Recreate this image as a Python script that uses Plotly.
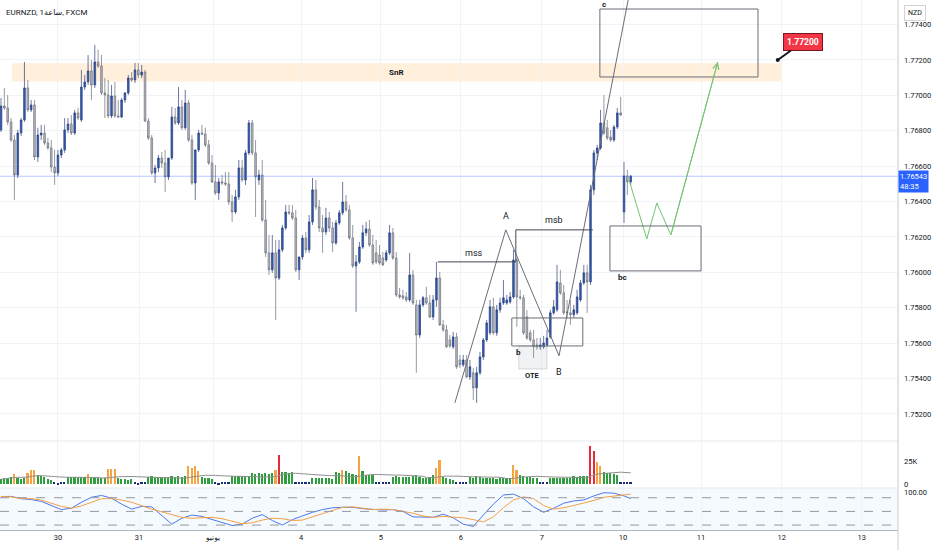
import pandas as pd
import plotly.graph_objects as go

# ---------------- data (hourly EURNZD, FXCM) ----------------
bar = list(range(189))

open_ = [
 1.76805, 1.76940, 1.76929, 1.76850, 1.76748, 1.76550, 1.76787, 1.76861, 1.77042, 1.76918,
 1.76946, 1.76652, 1.76776, 1.76787, 1.76731, 1.76703, 1.76595, 1.76562, 1.76663, 1.76692,
 1.76805, 1.76838, 1.76787, 1.76901, 1.76861, 1.77047, 1.77076, 1.77138, 1.77059, 1.77189,
 1.77166, 1.77014, 1.77002, 1.76884, 1.76997, 1.76884, 1.76878, 1.76974, 1.77014, 1.77098,
 1.77087, 1.77144, 1.77115, 1.77132, 1.76855, 1.76759, 1.76562, 1.76590, 1.76646, 1.76618,
 1.76539, 1.76646, 1.76878, 1.76844, 1.76935, 1.76817, 1.76957, 1.76748, 1.76505, 1.76692,
 1.76787, 1.76782, 1.76720, 1.76618, 1.76511, 1.76449, 1.76511, 1.76505, 1.76499, 1.76398,
 1.76341, 1.76426, 1.76590, 1.76522, 1.76675, 1.76844, 1.76675, 1.76522, 1.76550, 1.76296,
 1.76110, 1.76014, 1.76110, 1.75968, 1.76127, 1.76251, 1.76341, 1.76336, 1.76307, 1.76014,
 1.76087, 1.76194, 1.76127, 1.76285, 1.76466, 1.76369, 1.76251, 1.76228, 1.76307, 1.76251,
 1.76166, 1.76279, 1.76336, 1.76398, 1.76353, 1.76194, 1.76036, 1.76059, 1.76143, 1.76223,
 1.76245, 1.76155, 1.76110, 1.76098, 1.76081, 1.76070, 1.76110, 1.76223, 1.76081, 1.75872,
 1.75867, 1.75861, 1.75844, 1.75985, 1.75816, 1.75646, 1.75816, 1.75856, 1.75827, 1.75748,
 1.75844, 1.75968, 1.75703, 1.75675, 1.75618, 1.75579, 1.75635, 1.75505, 1.75477, 1.75505,
 1.75409, 1.75432, 1.75347, 1.75432, 1.75522, 1.75618, 1.75658, 1.75805, 1.75658, 1.75788,
 1.75827, 1.75827, 1.75833, 1.75861, 1.76070, 1.75861, 1.75856, 1.75748, 1.75658, 1.75618,
 1.75590, 1.75579, 1.75579, 1.75590, 1.75635, 1.75771, 1.75788, 1.75940, 1.75884, 1.75777,
 1.75771, 1.75760, 1.75771, 1.75844, 1.75940, 1.75997, 1.75946, 1.76466, 1.76675, 1.76703,
 1.76844, 1.76817, 1.76765, 1.76748, 1.76821, 1.76901, 1.76341, 1.76545, 1.76511]

high = [
 1.76985, 1.77042, 1.77002, 1.76872, 1.76776, 1.76805, 1.76872, 1.77189, 1.77087, 1.76974,
 1.76974, 1.76817, 1.76833, 1.76833, 1.76759, 1.76748, 1.76692, 1.76692, 1.76703, 1.76872,
 1.76872, 1.76889, 1.76918, 1.76929, 1.77144, 1.77115, 1.77228, 1.77200, 1.77285, 1.77257,
 1.77228, 1.77098, 1.77087, 1.77059, 1.77076, 1.76974, 1.76985, 1.77019, 1.77115, 1.77132,
 1.77183, 1.77183, 1.77172, 1.77144, 1.76872, 1.76776, 1.76607, 1.76663, 1.76680, 1.76692,
 1.76607, 1.76935, 1.76929, 1.77047, 1.76974, 1.77031, 1.76974, 1.76776, 1.76692, 1.76805,
 1.76833, 1.76817, 1.76748, 1.76663, 1.76607, 1.76533, 1.76550, 1.76567, 1.76567, 1.76437,
 1.76466, 1.76635, 1.76635, 1.76692, 1.76861, 1.76861, 1.76748, 1.76579, 1.76635, 1.76409,
 1.76211, 1.76211, 1.76183, 1.76183, 1.76268, 1.76381, 1.76381, 1.76381, 1.76353, 1.76059,
 1.76211, 1.76228, 1.76324, 1.76533, 1.76522, 1.76409, 1.76324, 1.76364, 1.76341, 1.76285,
 1.76296, 1.76353, 1.76511, 1.76437, 1.76381, 1.76268, 1.76098, 1.76172, 1.76268, 1.76285,
 1.76296, 1.76211, 1.76183, 1.76155, 1.76115, 1.76127, 1.76268, 1.76251, 1.76115, 1.75912,
 1.75901, 1.75889, 1.76110, 1.76014, 1.75844, 1.75844, 1.75867, 1.75918, 1.75872, 1.75872,
 1.76059, 1.76002, 1.75731, 1.75703, 1.75646, 1.75663, 1.75658, 1.75533, 1.75533, 1.75533,
 1.75505, 1.75460, 1.75466, 1.75550, 1.75629, 1.75731, 1.75844, 1.75856, 1.75816, 1.75856,
 1.75957, 1.75872, 1.75889, 1.76127, 1.76081, 1.75901, 1.75872, 1.75788, 1.75675, 1.75675,
 1.75629, 1.75629, 1.75641, 1.75675, 1.75788, 1.75844, 1.76042, 1.76014, 1.75929, 1.75844,
 1.75844, 1.75816, 1.75901, 1.75957, 1.76042, 1.76042, 1.76494, 1.76692, 1.76720, 1.76918,
 1.77002, 1.76861, 1.76805, 1.76833, 1.76929, 1.76991, 1.76624, 1.76579, 1.76550]

low = [
 1.76793, 1.76918, 1.76833, 1.76737, 1.76409, 1.76533, 1.76771, 1.76850, 1.76906, 1.76906,
 1.76635, 1.76624, 1.76748, 1.76720, 1.76692, 1.76567, 1.76494, 1.76545, 1.76646, 1.76675,
 1.76787, 1.76776, 1.76776, 1.76861, 1.76850, 1.77031, 1.77059, 1.76974, 1.77042, 1.77155,
 1.77002, 1.76872, 1.76872, 1.76872, 1.76872, 1.76872, 1.76872, 1.76957, 1.77002, 1.77076,
 1.77070, 1.77098, 1.77098, 1.76850, 1.76748, 1.76550, 1.76505, 1.76567, 1.76590, 1.76454,
 1.76522, 1.76635, 1.76833, 1.76833, 1.76805, 1.76805, 1.76737, 1.76494, 1.76409, 1.76680,
 1.76776, 1.76708, 1.76607, 1.76505, 1.76437, 1.76409, 1.76494, 1.76488, 1.76381, 1.76285,
 1.76330, 1.76409, 1.76511, 1.76494, 1.76663, 1.76663, 1.76313, 1.76494, 1.76285, 1.76087,
 1.75985, 1.75997, 1.75731, 1.75957, 1.76115, 1.76240, 1.76324, 1.76296, 1.76002, 1.75957,
 1.76070, 1.76110, 1.76110, 1.76268, 1.76353, 1.76228, 1.76110, 1.76211, 1.76228, 1.76115,
 1.76155, 1.76268, 1.76324, 1.76341, 1.76183, 1.76025, 1.75777, 1.76047, 1.76132, 1.76206,
 1.76143, 1.76042, 1.76047, 1.76042, 1.76036, 1.76059, 1.76098, 1.76070, 1.75861, 1.75850,
 1.75844, 1.75833, 1.75833, 1.75816, 1.75432, 1.75629, 1.75805, 1.75816, 1.75742, 1.75731,
 1.75805, 1.75697, 1.75663, 1.75573, 1.75573, 1.75567, 1.75454, 1.75460, 1.75466, 1.75403,
 1.75392, 1.75279, 1.75262, 1.75420, 1.75505, 1.75607, 1.75646, 1.75646, 1.75641, 1.75771,
 1.75816, 1.75816, 1.75822, 1.75850, 1.75692, 1.75844, 1.75646, 1.75618, 1.75607, 1.75516,
 1.75562, 1.75562, 1.75567, 1.75579, 1.75624, 1.75760, 1.75777, 1.75872, 1.75760, 1.75742,
 1.75703, 1.75742, 1.75760, 1.75833, 1.75929, 1.75771, 1.75929, 1.76437, 1.76635, 1.76692,
 1.76776, 1.76748, 1.76737, 1.76737, 1.76810, 1.76884, 1.76279, 1.76437, 1.76494]

close = [
 1.76940, 1.76929, 1.76850, 1.76748, 1.76550, 1.76787, 1.76861, 1.77042, 1.76918, 1.76946,
 1.76652, 1.76776, 1.76787, 1.76731, 1.76703, 1.76595, 1.76562, 1.76663, 1.76692, 1.76805,
 1.76838, 1.76787, 1.76901, 1.76872, 1.77047, 1.77076, 1.77138, 1.77059, 1.77189, 1.77166,
 1.77014, 1.77002, 1.76884, 1.76997, 1.76884, 1.76878, 1.76974, 1.77014, 1.77098, 1.77087,
 1.77144, 1.77115, 1.77132, 1.76855, 1.76759, 1.76562, 1.76590, 1.76646, 1.76618, 1.76539,
 1.76646, 1.76878, 1.76844, 1.76935, 1.76817, 1.76957, 1.76748, 1.76505, 1.76692, 1.76787,
 1.76782, 1.76720, 1.76618, 1.76511, 1.76449, 1.76511, 1.76505, 1.76499, 1.76398, 1.76341,
 1.76426, 1.76590, 1.76522, 1.76675, 1.76844, 1.76675, 1.76539, 1.76550, 1.76296, 1.76110,
 1.76014, 1.76110, 1.75968, 1.76127, 1.76251, 1.76341, 1.76336, 1.76307, 1.76014, 1.76087,
 1.76194, 1.76127, 1.76285, 1.76466, 1.76369, 1.76251, 1.76228, 1.76307, 1.76251, 1.76166,
 1.76279, 1.76336, 1.76398, 1.76353, 1.76194, 1.76036, 1.76059, 1.76143, 1.76223, 1.76245,
 1.76155, 1.76053, 1.76059, 1.76053, 1.76042, 1.76110, 1.76223, 1.76081, 1.75872, 1.75861,
 1.75856, 1.75844, 1.75985, 1.75827, 1.75646, 1.75816, 1.75856, 1.75827, 1.75748, 1.75844,
 1.75968, 1.75703, 1.75675, 1.75579, 1.75584, 1.75635, 1.75466, 1.75477, 1.75505, 1.75409,
 1.75466, 1.75347, 1.75432, 1.75522, 1.75618, 1.75714, 1.75805, 1.75658, 1.75788, 1.75827,
 1.75856, 1.75844, 1.75861, 1.76070, 1.75861, 1.75856, 1.75658, 1.75629, 1.75618, 1.75579,
 1.75579, 1.75590, 1.75601, 1.75629, 1.75771, 1.75805, 1.75946, 1.75884, 1.75771, 1.75771,
 1.75760, 1.75788, 1.75861, 1.75940, 1.75997, 1.75946, 1.76466, 1.76675, 1.76703, 1.76844,
 1.76787, 1.76759, 1.76748, 1.76821, 1.76901, 1.76889, 1.76545, 1.76511, 1.76543]

volume_k = [
 5.5, 6.7, 7.4, 8.5, 11.5, 6.7, 6.3, 6.7, 12.2, 15.2,
 16.0, 10.4, 9.6, 8.5, 5.5, 4.8, 2.2, 2.0, 2.2, 2.5,
 8.5, 7.8, 8.0, 8.5, 7.8, 8.2, 11.5, 8.5, 7.8, 7.4,
 6.7, 7.0, 16.7, 16.7, 16.7, 6.7, 5.9, 5.5, 4.8, 5.5,
 2.2, 2.0, 2.2, 2.4, 8.5, 9.0, 8.2, 8.5, 7.8, 8.5,
 8.0, 8.9, 8.5, 9.3, 8.5, 9.0, 19.6, 17.8, 20.4, 14.0,
 8.5, 7.4, 6.7, 5.5, 2.2, 2.0, 2.2, 2.5, 2.2, 9.3,
 9.3, 8.9, 9.3, 9.6, 9.3, 12.0, 11.5, 12.2, 11.8, 12.2,
 11.5, 12.6, 15.2, 31.5, 13.0, 13.3, 12.6, 13.0, 3.0, 2.2,
 2.5, 2.2, 3.0, 6.7, 7.4, 6.7, 7.0, 6.7, 7.4, 6.3,
 13.0, 12.2, 15.2, 14.0, 12.2, 11.0, 10.4, 30.7, 14.0, 10.4,
 10.4, 10.0, 3.0, 2.2, 3.0, 2.2, 2.5, 8.5, 8.9, 8.5,
 8.2, 8.5, 8.5, 9.0, 10.4, 8.5, 7.4, 6.7, 8.5, 10.0,
 17.8, 26.3, 8.5, 6.7, 5.5, 4.8, 2.5, 2.2, 2.5, 2.2,
 8.5, 6.7, 9.3, 8.5, 7.0, 6.7, 7.4, 6.7, 6.3, 7.0,
 6.7, 6.7, 7.0, 21.5, 16.0, 10.4, 9.3, 8.5, 8.5, 7.4,
 6.7, 3.0, 2.2, 3.0, 6.7, 7.0, 6.7, 6.7, 7.4, 6.7,
 7.0, 9.3, 8.5, 9.3, 9.6, 9.3, 41.8, 36.3, 24.0, 19.6,
 13.0, 12.6, 12.2, 11.0, 10.4, 2.5, 2.2, 2.5, 2.2]

# volume indicator state per bar: b=low, g=normal, o=high, r=extreme
vol_state = list("".join([
 "ggggogggoo", "ogggggbbbb", "ggggggoggg", "ggoooggggg", "bbbbgggggg",
 "ggggggoooo", "ggggbbbbbg", "gggggggggg", "ggorggggbb", "bbbggggggg",
 "ggoggggogg", "ggbbbbbggg", "gggggggggg", "ooggggbbbb", "gggggggggg",
 "gggooggggg", "gbbbgggggg", "ggggggrroo", "gggggbbbb"]))

stoch_bar = list(range(0, 187, 3)) + [188]
stoch_k = [82, 83, 78, 76, 72, 63, 54, 57, 70, 81, 85, 79, 66, 55, 61, 60, 42, 22, 35, 42,
           39, 32, 26, 19, 22, 35, 43, 30, 20, 32, 40, 48, 54, 58, 59, 59, 56, 55, 53, 54,
           50, 38, 37, 37, 44, 36, 22, 17, 42, 66, 86, 88, 78, 60, 48, 57, 68, 73, 75, 84,
           91, 90, 84, 78]
stoch_d = [83, 82, 78, 78, 75, 68, 61, 57, 62, 70, 78, 78, 75, 70, 62, 55, 49, 43, 37, 35,
           36, 37, 34, 28, 23, 25, 31, 35, 34, 30, 31, 38, 45, 52, 59, 60, 57, 54, 55, 54,
           50, 46, 40, 37, 39, 38, 36, 32, 27, 38, 58, 75, 82, 78, 63, 55, 58, 63, 68, 74,
           81, 84, 87, 88]

day_ticks = [17.0, 41.2, 63.3, 89.6, 113.4, 137.3, 161.5, 185.7, 209.0, 233.1, 257.0]
day_labels = ["30", "31", "يونيو", "4", "5", "6", "7", "10", "11", "12", "13"]
price_ticks = [1.752, 1.754, 1.756, 1.758, 1.760, 1.762, 1.764, 1.766, 1.768, 1.770, 1.772, 1.774]
last_price = 1.76543

# ---------------- volume average ----------------
volume = [v * 1000 for v in volume_k]
vol_ma = pd.Series(volume).rolling(20, min_periods=1).mean()

FONT = "Roboto, 'DejaVu Sans', sans-serif"
TXT = "#131722"
state_colors = {"b": "#1b2a78", "g": "#2e9e3e", "o": "#f5a442", "r": "#e8283b"}

fig = go.Figure()
fig.add_trace(go.Candlestick(
    x=bar, open=open_, high=high, low=low, close=close,
    increasing=dict(fillcolor="#2f5cb5", line=dict(color="#2b3f7e", width=0.7)),
    decreasing=dict(fillcolor="#b9bcc4", line=dict(color="#6b6e78", width=0.7)),
    whiskerwidth=0, showlegend=False, hoverinfo="skip", xaxis="x", yaxis="y"))

fig.add_trace(go.Bar(x=bar, y=volume, marker_color=[state_colors[s] for s in vol_state],
                     marker_line_width=0, width=0.5, xaxis="x", yaxis="y2", showlegend=False))
fig.add_trace(go.Scatter(x=bar, y=vol_ma, mode="lines", line=dict(color="#8f8f8f", width=1),
                         xaxis="x", yaxis="y2", showlegend=False))
fig.add_trace(go.Scatter(x=stoch_bar, y=stoch_k, mode="lines", line=dict(color="#4f78ee", width=1),
                         xaxis="x", yaxis="y3", showlegend=False))
fig.add_trace(go.Scatter(x=stoch_bar, y=stoch_d, mode="lines", line=dict(color="#f5a043", width=1),
                         xaxis="x", yaxis="y3", showlegend=False))

# ---------------- drawings ----------------
zig_x = [135.5, 150.7, 166.6, 188.4]
zig_y = [1.75262, 1.76240, 1.75528, 1.77652]
fig.add_trace(go.Scatter(x=zig_x, y=zig_y, mode="lines", line=dict(color="#6a6d78", width=1),
                         xaxis="x", yaxis="y", showlegend=False, hoverinfo="skip"))
proj_x = [187.5, 192.8, 195.8, 200.0, 214.0]
proj_y = [1.76522, 1.76189, 1.76392, 1.76211, 1.77189]
fig.add_trace(go.Scatter(x=proj_x, y=proj_y, mode="lines", line=dict(color="#72c472", width=1),
                         xaxis="x", yaxis="y", showlegend=False, hoverinfo="skip"))

shapes = [
    dict(type="rect", xref="x", yref="y", x0=3.3, x1=233.1, y0=1.77079, y1=1.77181,
         fillcolor="rgba(255,160,40,0.17)", line=dict(width=0), layer="below"),
    dict(type="rect", xref="x", yref="y", x0=178.8, x1=226.0, y0=1.77104, y1=1.77488,
         line=dict(color="#6a6d78", width=1)),
    dict(type="rect", xref="x", yref="y", x0=181.8, x1=209.0, y0=1.76008, y1=1.76262,
         line=dict(color="#6a6d78", width=1)),
    dict(type="rect", xref="x", yref="y", x0=152.5, x1=173.7, y0=1.75584, y1=1.75742,
         line=dict(color="#6a6d78", width=1)),
    dict(type="rect", xref="x", yref="y", x0=154.6, x1=163.0, y0=1.75454, y1=1.75584,
         fillcolor="rgba(120,123,134,0.10)", line=dict(color="rgba(120,123,134,0.25)", width=1)),
    dict(type="line", xref="x", yref="y", x0=130.4, x1=153.7, y0=1.76059, y1=1.76059,
         line=dict(color="#434651", width=1)),
    dict(type="line", xref="x", yref="y", x0=153.7, x1=176.7, y0=1.76240, y1=1.76240,
         line=dict(color="#434651", width=1)),
    dict(type="line", xref="x", yref="y", x0=153.7, x1=153.7, y0=1.76240, y1=1.76059,
         line=dict(color="#434651", width=1)),
    dict(type="line", xref="paper", yref="y", x0=0, x1=1, y0=last_price, y1=last_price,
         line=dict(color="rgba(41,98,255,0.35)", width=1)),
    dict(type="rect", xref="paper", yref="y3", x0=0, x1=1, y0=9.2, y1=101.3,
         fillcolor="rgba(33,150,243,0.05)", line=dict(width=0), layer="below"),
]
for lvl in (80, 50, 20):
    shapes.append(dict(type="line", xref="paper", yref="y3", x0=0, x1=1, y0=lvl, y1=lvl,
                       line=dict(color="#9598a1", width=1, dash="dash")))
for py in (0.168, 0.0792):
    shapes.append(dict(type="line", xref="paper", yref="paper", x0=0, x1=1, y0=py, y1=py,
                       line=dict(color="#e6e8ee", width=1)))
shapes.append(dict(type="line", xref="paper", yref="paper", x0=1, x1=1, y0=-0.04, y1=1,
                   line=dict(color="#c9ccd4", width=1)))

def lab(x, y, t, size=8, bold=False):
    return dict(x=x, y=y, xref="x", yref="y", text=(f"<b>{t}</b>" if bold else t),
                showarrow=False, font=dict(size=size, color=TXT, family=FONT))

annotations = [
    lab(118.2, 1.77132, "SnR", 8, True),
    lab(180.0, 1.77512, "c", 8, True),
    lab(150.7, 1.76319, "A", 9),
    lab(166.6, 1.75437, "B", 9),
    lab(141.2, 1.76109, "mss", 9),
    lab(165.1, 1.76296, "msb", 9),
    lab(154.6, 1.75545, "b", 8, True),
    lab(158.8, 1.75415, "OTE", 7.5, True),
    lab(185.4, 1.75968, "bc", 8, True),
    dict(x=214.0, y=1.77189, ax=200.0, ay=1.76211, xref="x", yref="y", axref="x", ayref="y",
         text="", showarrow=True, arrowhead=5, arrowsize=1.2, arrowwidth=1, arrowcolor="#72c472"),
    dict(x=231.9, y=1.772, xref="x", yref="y", text="<b>1.77200</b>", showarrow=True,
         ax=25, ay=-18, arrowhead=6, arrowsize=0.5, arrowwidth=2, arrowcolor="#131722",
         bgcolor="#f23645", bordercolor="#7a1620", borderwidth=1, borderpad=3,
         font=dict(size=8.5, color="white", family=FONT)),
    dict(x=0.004, y=0.977, xref="paper", yref="paper", xanchor="left", yanchor="middle",
         text="EURNZD, 1ساعة, FXCM", showarrow=False, font=dict(size=8, color=TXT, family=FONT)),
    dict(x=1, y=0.976, xref="paper", yref="paper", xanchor="center", yanchor="middle", xshift=17,
         text="NZD", showarrow=False, bordercolor="#d1d4dc", borderwidth=1, borderpad=3,
         bgcolor="white", font=dict(size=7, color=TXT, family=FONT)),
    dict(x=1, y=last_price, xref="paper", yref="y", xanchor="left", yanchor="middle", yshift=-5,
         text="1.76543<br>48:35", showarrow=False, align="left", bgcolor="#2962ff",
         borderpad=1, font=dict(size=7.5, color="white", family=FONT)),
]

TICKF = dict(size=7.5, color=TXT, family=FONT)
fig.update_layout(
    width=932, height=550, margin=dict(l=0, r=34, t=0, b=20, autoexpand=False),
    paper_bgcolor="white", plot_bgcolor="white", showlegend=False,
    font=dict(family=FONT, size=8, color=TXT),
    bargap=0,
    xaxis=dict(domain=[0, 1], range=[-0.3, 267.8], anchor="y3", tickvals=day_ticks,
               ticktext=day_labels, showgrid=True, gridcolor="#f2f3f6", showline=True,
               linecolor="#b2b5be", ticks="", zeroline=False, rangeslider=dict(visible=False),
               tickfont=TICKF, automargin=False),
    yaxis=dict(domain=[0.168, 1], range=[1.75047, 1.77539], side="right", anchor="x",
               tickvals=price_ticks, tickformat=".5f", showgrid=True, gridcolor="#f2f3f6",
               zeroline=False, ticks="", tickfont=TICKF, ticklabelstandoff=5, automargin=False),
    yaxis2=dict(domain=[0.0792, 0.168], range=[-4000, 47100], side="right", anchor="x",
                tickvals=[0, 25000], ticktext=["0", "25K"], showgrid=False, zeroline=False,
                ticks="", tickfont=TICKF, ticklabelstandoff=5, automargin=False),
    yaxis3=dict(domain=[0, 0.0792], range=[9.2, 101.3], side="right", anchor="x",
                tickvals=[100], ticktext=["100.00"], showgrid=False, zeroline=False,
                ticks="", tickfont=TICKF, ticklabelstandoff=5, ticklabelshift=4,
                automargin=False),
    shapes=shapes, annotations=annotations,
)

fig.write_html("out.html", config={"displayModeBar": False},
               post_script="document.body.style.margin='0';document.body.style.overflow='hidden';")
